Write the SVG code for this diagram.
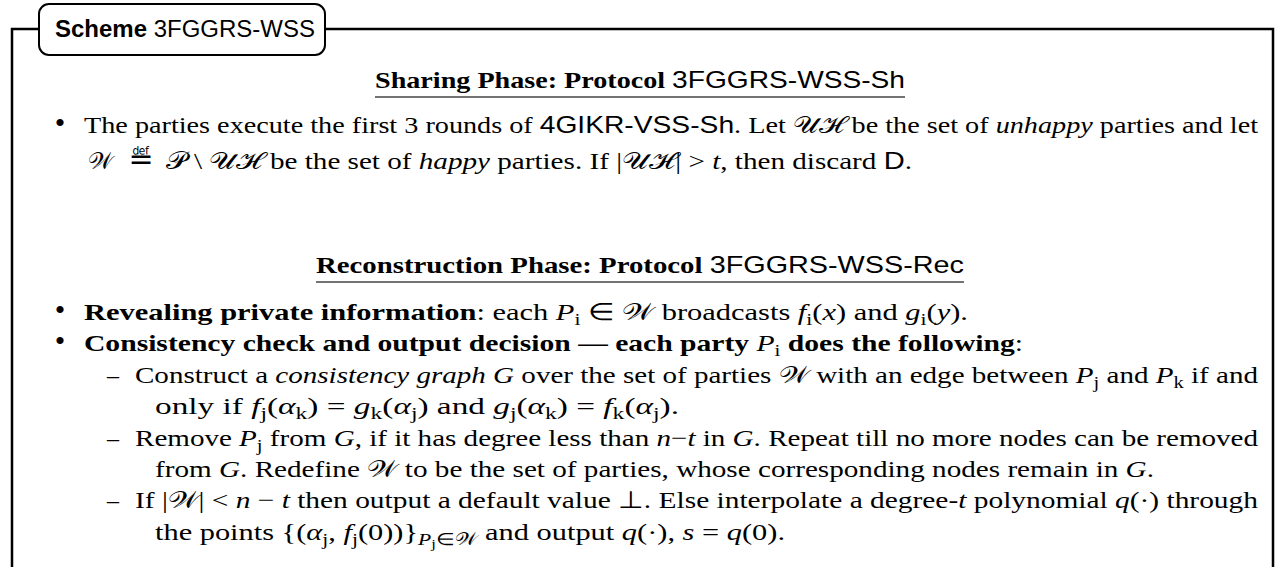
<svg xmlns="http://www.w3.org/2000/svg" width="1280" height="567" viewBox="0 0 1280 567">
<style>
text{font-family:"Liberation Serif",serif;font-size:24px;fill:#000}
.it{font-style:italic}
.b{font-weight:bold}
.n{font-weight:normal}
.sf{font-family:"Liberation Sans",sans-serif}
.cal{font-family:"DejaVu Serif",serif;font-style:normal;font-weight:normal}
.sub{font-size:17px;baseline-shift:-5px}
.ssub{font-size:13px;baseline-shift:-3px}
.bul{font-size:30px}
.frame{fill:none;stroke:#000;stroke-width:2.5}
.ul{stroke:#444;stroke-width:1.5}
</style>
<g id="frame">
<path class="frame" d="M12 567 V29 H1273 V567"/>
</g>
<g id="tab">
<rect x="39" y="4" width="286" height="51" rx="10" fill="#fff" stroke="#000" stroke-width="2"/>
<text x="55" y="37" class="sf" style="font-size:23px" textLength="260" lengthAdjust="spacingAndGlyphs"><tspan class="b">Scheme</tspan> 3FGGRS-WSS</text>
</g>
<g id="sharing">
<text x="375" y="88" class="b" textLength="530" lengthAdjust="spacingAndGlyphs">Sharing Phase: Protocol <tspan class="sf n">3FGGRS-WSS-Sh</tspan></text>
<line class="ul" x1="375" y1="97" x2="905" y2="97"/>
<text x="60" y="133" class="bul" text-anchor="middle">•</text>
<text x="84" y="133" textLength="1174" lengthAdjust="spacingAndGlyphs">The parties execute the first 3 rounds of <tspan class="sf">4GIKR-VSS-Sh</tspan>. Let <tspan class="cal">𝒰ℋ</tspan> be the set of <tspan class="it">unhappy</tspan> parties and let</text>
<text x="88" y="169" class="cal">𝒲</text>
<text x="141" y="169" text-anchor="middle" style="font-family:'DejaVu Serif','DejaVu Sans',serif;font-size:30px">≝</text>
<text x="166" y="169" textLength="746" lengthAdjust="spacingAndGlyphs"><tspan class="cal">𝒫</tspan> \ <tspan class="cal">𝒰ℋ</tspan> be the set of <tspan class="it">happy</tspan> parties. If |<tspan class="cal">𝒰ℋ</tspan>| &gt; <tspan class="it">t</tspan>, then discard <tspan class="sf">D</tspan>.</text>
</g>
<g id="reconstruction">
<text x="316" y="273" class="b" textLength="648" lengthAdjust="spacingAndGlyphs">Reconstruction Phase: Protocol <tspan class="sf n">3FGGRS-WSS-Rec</tspan></text>
<line class="ul" x1="316" y1="282" x2="964" y2="282"/>
<text x="60" y="320" class="bul" text-anchor="middle">•</text>
<text x="84" y="320" textLength="884" lengthAdjust="spacingAndGlyphs"><tspan class="b">Revealing private information</tspan>: each <tspan class="it">P</tspan><tspan class="sub">i</tspan> ∈ <tspan class="cal">𝒲</tspan> broadcasts <tspan class="it">f</tspan><tspan class="sub">i</tspan>(<tspan class="it">x</tspan>) and <tspan class="it">g</tspan><tspan class="sub">i</tspan>(<tspan class="it">y</tspan>).</text>
<text x="60" y="351" class="bul" text-anchor="middle">•</text>
<text x="84" y="351" textLength="939" lengthAdjust="spacingAndGlyphs"><tspan class="b">Consistency check and output decision — each party </tspan><tspan class="it">P</tspan><tspan class="sub">i</tspan><tspan class="b"> does the following</tspan>:</text>
<text x="107" y="383">–</text>
<text x="135" y="383" textLength="1123" lengthAdjust="spacingAndGlyphs">Construct a <tspan class="it">consistency graph</tspan> <tspan class="it">G</tspan> over the set of parties <tspan class="cal">𝒲</tspan> with an edge between <tspan class="it">P</tspan><tspan class="sub">j</tspan> and <tspan class="it">P</tspan><tspan class="sub">k</tspan> if and</text>
<text x="155" y="414" textLength="524" lengthAdjust="spacingAndGlyphs">only if <tspan class="it">f</tspan><tspan class="sub">j</tspan>(<tspan class="it">α</tspan><tspan class="sub">k</tspan>) = <tspan class="it">g</tspan><tspan class="sub">k</tspan>(<tspan class="it">α</tspan><tspan class="sub">j</tspan>) and <tspan class="it">g</tspan><tspan class="sub">j</tspan>(<tspan class="it">α</tspan><tspan class="sub">k</tspan>) = <tspan class="it">f</tspan><tspan class="sub">k</tspan>(<tspan class="it">α</tspan><tspan class="sub">j</tspan>).</text>
<text x="107" y="446">–</text>
<text x="135" y="446" textLength="1123" lengthAdjust="spacingAndGlyphs">Remove <tspan class="it">P</tspan><tspan class="sub">j</tspan> from <tspan class="it">G</tspan>, if it has degree less than <tspan class="it">n</tspan>−<tspan class="it">t</tspan> in <tspan class="it">G</tspan>. Repeat till no more nodes can be removed</text>
<text x="155" y="477" textLength="999" lengthAdjust="spacingAndGlyphs">from <tspan class="it">G</tspan>. Redefine <tspan class="cal">𝒲</tspan> to be the set of parties, whose corresponding nodes remain in <tspan class="it">G</tspan>.</text>
<text x="107" y="508">–</text>
<text x="135" y="508" textLength="1123" lengthAdjust="spacingAndGlyphs">If |<tspan class="cal">𝒲</tspan>| &lt; <tspan class="it">n</tspan> − <tspan class="it">t</tspan> then output a default value ⊥. Else interpolate a degree-<tspan class="it">t</tspan> polynomial <tspan class="it">q</tspan>(·) through</text>
<text x="155" y="540" textLength="630" lengthAdjust="spacingAndGlyphs">the points {(<tspan class="it">α</tspan><tspan class="sub">j</tspan>, <tspan class="it">f</tspan><tspan class="sub">j</tspan>(0))}<tspan class="sub"><tspan class="it">P</tspan><tspan class="ssub">j</tspan>∈<tspan class="cal">𝒲</tspan></tspan> and output <tspan class="it">q</tspan>(·), <tspan class="it">s</tspan> = <tspan class="it">q</tspan>(0).</text>
</g>
</svg>
